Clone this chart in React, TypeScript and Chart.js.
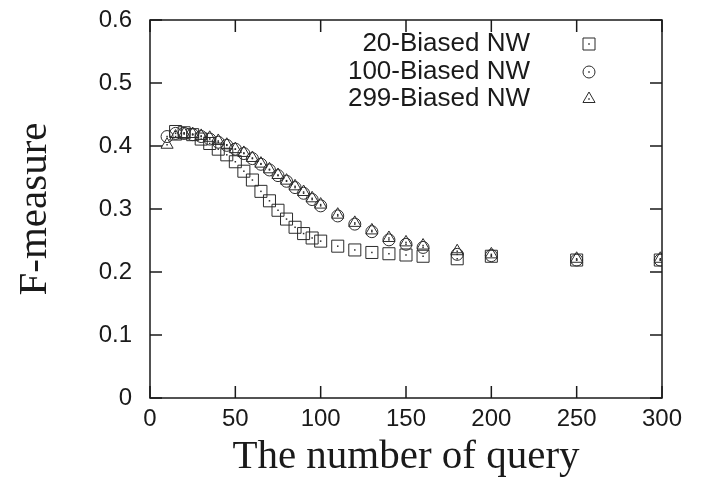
import React, { useEffect, useRef } from 'react';
import { Chart, registerables } from 'chart.js';

Chart.register(...registerables);

// ---- data ----
const queries20 = [15, 20, 25, 30, 35, 40, 45, 50, 55, 60, 65, 70, 75, 80, 85, 90, 95, 100, 110, 120, 130, 140, 150, 160, 180, 200, 250, 299];
const fmeasure20 = [0.423, 0.421, 0.418, 0.411, 0.404, 0.395, 0.386, 0.375, 0.36, 0.346, 0.328, 0.313, 0.298, 0.284, 0.271, 0.261, 0.254, 0.249, 0.241, 0.235, 0.231, 0.229, 0.227, 0.225, 0.221, 0.225, 0.219, 0.219];

const queries100 = [10, 15, 20, 25, 30, 35, 40, 45, 50, 55, 60, 65, 70, 75, 80, 85, 90, 95, 100, 110, 120, 130, 140, 150, 160, 180, 200, 250, 299];
const fmeasure100 = [0.415, 0.42, 0.42, 0.418, 0.415, 0.411, 0.406, 0.401, 0.395, 0.388, 0.38, 0.371, 0.362, 0.353, 0.344, 0.334, 0.325, 0.315, 0.305, 0.289, 0.276, 0.264, 0.251, 0.244, 0.239, 0.228, 0.226, 0.219, 0.219];

const queries299 = [10, 15, 20, 25, 30, 35, 40, 45, 50, 55, 60, 65, 70, 75, 80, 85, 90, 95, 100, 110, 120, 130, 140, 150, 160, 180, 200, 250, 299];
const fmeasure299 = [0.402, 0.415, 0.419, 0.419, 0.416, 0.413, 0.408, 0.402, 0.395, 0.389, 0.381, 0.372, 0.363, 0.354, 0.345, 0.336, 0.327, 0.317, 0.307, 0.291, 0.278, 0.266, 0.254, 0.247, 0.242, 0.233, 0.228, 0.221, 0.221];

const seriesLabels = ['20-Biased NW', '100-Biased NW', '299-Biased NW'];
const xTicks = [0, 50, 100, 150, 200, 250, 300];
const yTicks = [0, 0.1, 0.2, 0.3, 0.4, 0.5, 0.6];

const MARK = '#2b2b2b';

function drawSymbol(ctx: CanvasRenderingContext2D, kind: string, x: number, y: number) {
  ctx.beginPath();
  if (kind === 'rect') {
    ctx.rect(x - 6, y - 6, 12, 12);
  } else if (kind === 'circle') {
    ctx.arc(x, y, 6, 0, Math.PI * 2);
  } else {
    const r = 7;
    for (let i = 0; i < 3; i++) {
      const a = (i * 2 * Math.PI) / 3;
      const px = x + Math.sin(a) * r;
      const py = y - Math.cos(a) * r;
      if (i === 0) ctx.moveTo(px, py);
      else ctx.lineTo(px, py);
    }
    ctx.closePath();
  }
  ctx.stroke();
  ctx.fillRect(x - 0.75, y - 0.75, 1.5, 1.5);
}

const centerDots = {
  id: 'centerDots',
  afterDatasetsDraw(chart: any) {
    const { ctx } = chart;
    ctx.save();
    ctx.fillStyle = MARK;
    chart.data.datasets.forEach((_d: any, i: number) => {
      const meta = chart.getDatasetMeta(i);
      meta.data.forEach((el: any) => {
        ctx.fillRect(el.x - 0.75, el.y - 0.75, 1.5, 1.5);
      });
    });
    ctx.restore();
  },
};

const frame = {
  id: 'frame',
  afterDraw(chart: any) {
    const { ctx, chartArea: a, scales } = chart;
    const x = scales.x;
    const y = scales.y;
    ctx.save();
    ctx.strokeStyle = '#1a1a1a';
    ctx.lineWidth = 1.5;
    ctx.strokeRect(a.left, a.top, a.right - a.left, a.bottom - a.top);
    const L = 12;
    ctx.beginPath();
    xTicks.forEach((v) => {
      const px = x.getPixelForValue(v);
      ctx.moveTo(px, a.bottom);
      ctx.lineTo(px, a.bottom - L);
      ctx.moveTo(px, a.top);
      ctx.lineTo(px, a.top + L);
    });
    yTicks.forEach((v) => {
      const py = y.getPixelForValue(v);
      ctx.moveTo(a.left, py);
      ctx.lineTo(a.left + L, py);
      ctx.moveTo(a.right, py);
      ctx.lineTo(a.right - L, py);
    });
    ctx.stroke();

    // legend
    const kinds = ['rect', 'circle', 'triangle'];
    const rowsY = [a.top + 24, a.top + 52, a.top + 79];
    ctx.font = '26px "Liberation Sans", Arial, sans-serif';
    ctx.textAlign = 'right';
    ctx.textBaseline = 'middle';
    ctx.fillStyle = '#1a1a1a';
    seriesLabels.forEach((label, i) => {
      ctx.fillText(label, a.left + 380, rowsY[i]);
    });
    ctx.strokeStyle = MARK;
    ctx.fillStyle = MARK;
    ctx.lineWidth = 1;
    kinds.forEach((k, i) => drawSymbol(ctx, k, a.left + 439, rowsY[i]));
    ctx.restore();
  },
};

export default function App() {
  const ref = useRef<HTMLCanvasElement | null>(null);

  useEffect(() => {
    document.body.style.margin = '0';
    if (!ref.current) return;
    const toPts = (xs: number[], ys: number[]) => xs.map((q, i) => ({ x: q, y: ys[i] }));
    const chart = new Chart(ref.current, {
      type: 'scatter',
      data: {
        datasets: [
          {
            label: seriesLabels[0],
            data: toPts(queries20, fmeasure20),
            pointStyle: 'rect',
            pointRadius: 8.5,
            borderColor: MARK,
            backgroundColor: 'rgba(0,0,0,0)',
            borderWidth: 1,
          },
          {
            label: seriesLabels[1],
            data: toPts(queries100, fmeasure100),
            pointStyle: 'circle',
            pointRadius: 6,
            borderColor: MARK,
            backgroundColor: 'rgba(0,0,0,0)',
            borderWidth: 1,
          },
          {
            label: seriesLabels[2],
            data: toPts(queries299, fmeasure299),
            pointStyle: 'triangle',
            pointRadius: 7,
            borderColor: MARK,
            backgroundColor: 'rgba(0,0,0,0)',
            borderWidth: 1,
          },
        ],
      },
      options: {
        responsive: false,
        animation: false,
        layout: { padding: { top: 20, right: 42, left: 0, bottom: 0 } },
        plugins: { legend: { display: false }, tooltip: { enabled: false } },
        scales: {
          x: {
            type: 'linear',
            min: 0,
            max: 300,
            afterFit: (s: any) => {
              s.height = 95;
              s.paddingLeft = 0;
              s.paddingRight = 0;
            },
            afterBuildTicks: (s: any) => {
              s.ticks = xTicks.map((v) => ({ value: v }));
            },
            grid: { display: false, drawTicks: false },
            border: { display: false },
            ticks: {
              padding: 7,
              color: '#1a1a1a',
              font: { family: '"Liberation Sans", Arial, sans-serif', size: 24 },
            },
            title: {
              display: true,
              text: 'The number of query',
              color: '#1a1a1a',
              font: { family: '"Liberation Serif", "Times New Roman", serif', size: 41 },
              padding: { top: 0, bottom: 11 },
            },
          },
          y: {
            type: 'linear',
            min: 0,
            max: 0.6,
            afterFit: (s: any) => {
              s.width = 150;
              s.paddingTop = 0;
              s.paddingBottom = 0;
            },
            afterBuildTicks: (s: any) => {
              s.ticks = yTicks.map((v) => ({ value: v }));
            },
            grid: { display: false, drawTicks: false },
            border: { display: false },
            ticks: {
              padding: 18,
              color: '#1a1a1a',
              font: { family: '"Liberation Sans", Arial, sans-serif', size: 24 },
            },
            title: {
              display: true,
              text: 'F-measure',
              color: '#1a1a1a',
              font: { family: '"Liberation Serif", "Times New Roman", serif', size: 41 },
              padding: { top: 11, bottom: 0 },
            },
          },
        },
      },
      plugins: [centerDots, frame],
    });
    return () => chart.destroy();
  }, []);

  return (
    <div style={{ position: 'absolute', left: 0, top: 0, width: 704, height: 493 }}>
      <canvas ref={ref} width={704} height={493} style={{ display: 'block', width: 704, height: 493 }} />
    </div>
  );
}
